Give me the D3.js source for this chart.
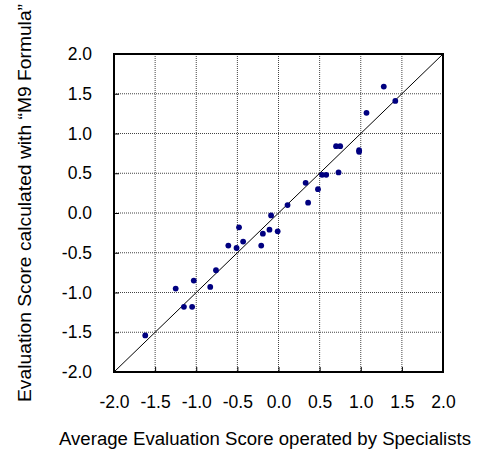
<!DOCTYPE html>
<html>
<head>
    <meta charset="utf-8">
    <script src="https://d3js.org/d3.v7.min.js"></script>
    <style>
        body { margin: 0; background: #fff; }
        svg text { font-family: "Liberation Sans", Arial, sans-serif; fill: #000; }
    </style>
</head>
<body>
    <svg id="chart"></svg>
    <script>
        // specialists' average score (x) vs score from M9 formula (y)
        var specialistScore = [-1.62, -1.25, -1.15, -1.05, -1.03, -0.83, -0.76, -0.61, -0.51, -0.48,
            -0.43, -0.21, -0.19, -0.11, -0.09, -0.01, 0.11, 0.33, 0.36, 0.48,
            0.53, 0.58, 0.70, 0.75, 0.73, 0.98, 0.98, 1.07, 1.28, 1.42]
        var formulaScore = [-1.54, -0.95, -1.18, -1.18, -0.85, -0.93, -0.72, -0.41, -0.44, -0.18,
            -0.36, -0.41, -0.26, -0.21, -0.03, -0.23, 0.10, 0.38, 0.13, 0.30,
            0.48, 0.48, 0.84, 0.84, 0.51, 0.79, 0.77, 1.26, 1.59, 1.41]
        var tickValues = [-2.0, -1.5, -1.0, -0.5, 0.0, 0.5, 1.0, 1.5, 2.0]

        var width = 485, height = 457
        var pLeft = 114, pRight = 443, pTop = 54, pBottom = 372

        var svg = d3.select('#chart').attr('width', width).attr('height', height)

        var x = d3.scaleLinear().domain([-2, 2]).range([pLeft, pRight])
        var y = d3.scaleLinear().domain([-2, 2]).range([pBottom, pTop])

        // grid
        var grid = svg.append('g')
        grid.selectAll('line.gx').data(tickValues.slice(1, -1)).enter().append('line')
            .attr('x1', d => x(d)).attr('x2', d => x(d))
            .attr('y1', pTop).attr('y2', pBottom)
            .attr('stroke', '#444').attr('stroke-width', 1).attr('stroke-dasharray', '1,1')
        grid.selectAll('line.gy').data(tickValues.slice(1, -1)).enter().append('line')
            .attr('y1', d => y(d)).attr('y2', d => y(d))
            .attr('x1', pLeft).attr('x2', pRight)
            .attr('stroke', '#444').attr('stroke-width', 1).attr('stroke-dasharray', '1,1')

        // axes, ticks inside
        var xAxis = d3.axisBottom(x).tickValues(tickValues).tickSize(-5).tickPadding(24)
            .tickFormat(d3.format('.1f'))
        var yAxis = d3.axisLeft(y).tickValues(tickValues).tickSize(-5).tickPadding(22)
            .tickFormat(d3.format('.1f'))

        var gx = svg.append('g').attr('transform', 'translate(0,' + pBottom + ')').call(xAxis)
        var gy = svg.append('g').attr('transform', 'translate(' + pLeft + ',0)').call(yAxis)
        ;[gx, gy].forEach(function (g) {
            g.select('.domain').remove()
            g.selectAll('.tick line').attr('stroke', '#000')
            g.selectAll('.tick text').attr('font-size', 17.5)
                .attr('font-family', '"Liberation Sans", Arial, sans-serif')
                .text(function (d) { return d3.format('.1f')(d).replace('\u2212', '-') })
        })

        // diagonal y = x
        svg.append('line')
            .attr('x1', x(-2)).attr('y1', y(-2))
            .attr('x2', x(2)).attr('y2', y(2))
            .attr('stroke', '#000').attr('stroke-width', 1)

        // points
        var pts = specialistScore.map((d, i) => [d, formulaScore[i]])
        svg.append('g').selectAll('circle').data(pts).enter().append('circle')
            .attr('cx', d => x(d[0]))
            .attr('cy', d => y(d[1]))
            .attr('r', 2.9)
            .attr('fill', '#000080')

        // frame
        svg.append('rect')
            .attr('x', pLeft).attr('y', pTop)
            .attr('width', pRight - pLeft).attr('height', pBottom - pTop)
            .attr('fill', 'none').attr('stroke', '#000').attr('stroke-width', 2)

        // titles
        svg.append('text')
            .attr('x', 265).attr('y', 445)
            .attr('text-anchor', 'middle').attr('font-size', 18)
            .attr('textLength', 412).attr('lengthAdjust', 'spacingAndGlyphs')
            .text('Average Evaluation Score operated by Specialists')

        svg.append('text')
            .attr('transform', 'translate(31,203) rotate(-90)')
            .attr('text-anchor', 'middle').attr('font-size', 18)
            .attr('textLength', 398).attr('lengthAdjust', 'spacingAndGlyphs')
            .text('Evaluation Score calculated with \u201cM9 Formula\u201d')
    </script>
</body>
</html>
